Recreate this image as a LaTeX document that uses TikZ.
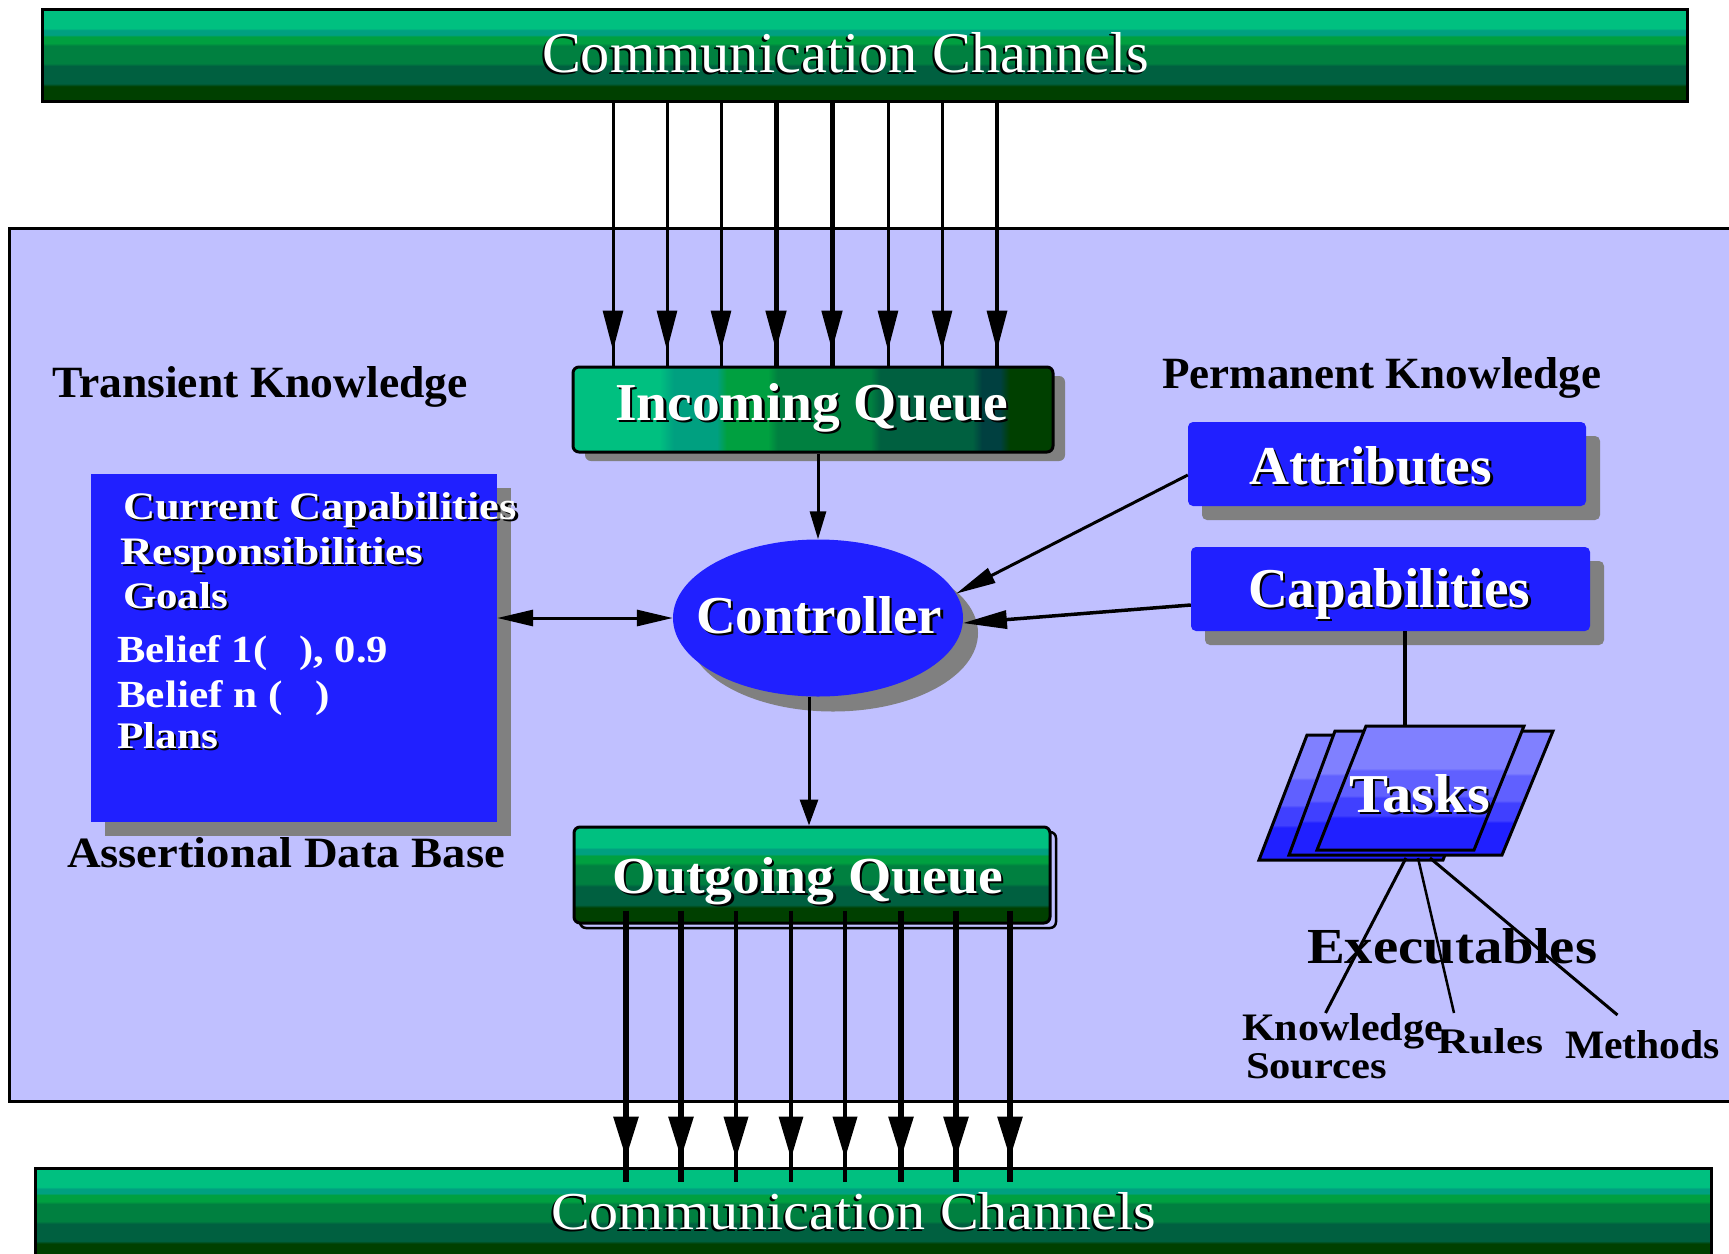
\documentclass[tikz,border=0pt]{standalone}
\usepackage{fontspec}
\setmainfont{Liberation Serif}
\usepackage{graphicx}
\usetikzlibrary{arrows.meta,shadows,decorations.markings,calc,shapes.geometric}

\definecolor{g1}{HTML}{00C080}
\definecolor{g2}{HTML}{00A080}
\definecolor{g3}{HTML}{00A040}
\definecolor{g4}{HTML}{008040}
\definecolor{g5}{HTML}{006040}
\definecolor{g5b}{HTML}{004040}
\definecolor{g6}{HTML}{004000}
\definecolor{t1}{HTML}{8080FF}
\definecolor{t2}{HTML}{6060FF}
\definecolor{t3}{HTML}{4040FF}
\definecolor{t4}{HTML}{2020FF}
\definecolor{panel}{HTML}{C0C0FF}
\definecolor{kbblue}{HTML}{2020FF}
\definecolor{shadowgray}{HTML}{808080}

% banded green fill, light at the top
\pgfdeclareverticalshading{channelbands}{100bp}{%
  color(0bp)=(g6); color(33bp)=(g6); color(34.5bp)=(g5); color(44bp)=(g5);
  color(45.5bp)=(g4); color(55bp)=(g4); color(56.5bp)=(g3); color(60bp)=(g3);
  color(61bp)=(g2); color(63.5bp)=(g2); color(64.5bp)=(g1); color(100bp)=(g1)}
% banded green fill, light at the left
\pgfdeclarehorizontalshading{inqueuebands}{100bp}{%
  color(0bp)=(g1); color(34bp)=(g1); color(35.5bp)=(g2); color(40bp)=(g2);
  color(41bp)=(g3); color(45.3bp)=(g3); color(46.3bp)=(g4); color(56bp)=(g4);
  color(57bp)=(g5); color(66.6bp)=(g5); color(67.6bp)=(g5b); color(69.5bp)=(g5b);
  color(70.5bp)=(g6); color(100bp)=(g6)}
% banded blue fill for the task cards
\pgfdeclareverticalshading{taskbands}{100bp}{%
  color(0bp)=(t4); color(38bp)=(t4); color(39bp)=(t3); color(46bp)=(t3);
  color(47bp)=(t2); color(57bp)=(t2); color(58bp)=(t1); color(100bp)=(t1)}

% text fitted to a width and height, white with a black offset copy
\newcommand\embossed[3]{%
  \rlap{\kern2.5pt\raisebox{-2.5pt}{\textcolor{black}{\resizebox{#1}{#2}{#3}}}}%
  \textcolor{white}{\resizebox{#1}{#2}{#3}}}
\newcommand\embossedL[3]{%
  \rlap{\kern-2pt\raisebox{-2.5pt}{\textcolor{black}{\resizebox{#1}{#2}{#3}}}}%
  \textcolor{white}{\resizebox{#1}{#2}{#3}}}
\newcommand\fitted[3]{\resizebox{#1}{#2}{#3}}

\tikzset{
  lbl/.style={anchor=base west, inner sep=0, outer sep=0},
  chanbar/.style={draw=black, line width=3pt, shade, shading=channelbands, inner sep=0},
  kbbox/.style={fill=kbblue, inner sep=0, rounded corners=5pt,
    drop shadow={shadow xshift=14pt, shadow yshift=-14pt, fill=shadowgray, opacity=1}},
  link/.style={line width=3pt},
  inlink/.style={line width=#1, postaction={decorate, decoration={markings,
    mark=at position -15pt with {\arrow{Triangle[length=40pt,width=20pt]}}}}},
  outlink/.style={line width=#1, postaction={decorate, decoration={markings,
    mark=at position -23pt with {\arrow{Triangle[length=42pt,width=24pt]}}}}},
  card/.style={draw=black, line width=3pt, line join=miter, shade, shading=taskbands},
}

\begin{document}
\begin{tikzpicture}[x=1pt,y=-1pt]
\useasboundingbox (0,0) rectangle (1729,1253);
\fill[white] (0,0) rectangle (1729,1253);

% agent panel
\draw[line width=3pt, fill=panel] (9,228) rectangle (1750,1101);

% communication channels
\node[chanbar, minimum width=1645pt, minimum height=92pt] (topch) at (864.5,55) {};
\node[lbl] (topchT) at (542,72) {\embossedL{607pt}{40pt}{Communication Channels}};
\node[chanbar, minimum width=1676pt, minimum height=90pt] (botch) at (873,1213) {};
\node[lbl] (botchT) at (551,1229) {\embossedL{605pt}{37pt}{Communication Channels}};

% queues
\node[draw=black, line width=3pt, rounded corners=6pt, shade, shading=inqueuebands,
  drop shadow={shadow xshift=12pt, shadow yshift=-9pt, fill=shadowgray, opacity=1},
  minimum width=480pt, minimum height=85pt, inner sep=0] (iq) at (813,409.5) {};
\node[lbl] (iqT) at (615,420) {\embossed{393pt}{37pt}{\bfseries Incoming Queue}};

\draw[line width=2.5pt, rounded corners=6pt] (580,832) rectangle (1056,928);
\node[draw=black, line width=3pt, rounded corners=6pt, shade, shading=channelbands,
  minimum width=476pt, minimum height=96pt, inner sep=0] (og) at (812,875) {};
\node[lbl] (ogT) at (612,893) {\embossed{391pt}{36pt}{\bfseries Outgoing Queue}};

% controller
\node[ellipse, fill=kbblue, minimum width=290pt, minimum height=157pt, inner sep=0,
  drop shadow={shadow xshift=15pt, shadow yshift=-15pt, fill=shadowgray, opacity=1}]
  (ctrl) at (818,618) {};
\node[lbl] (ctrlT) at (696,633) {\embossed{246pt}{37pt}{\bfseries Controller}};

% transient knowledge
\node[lbl] (transT) at (52,397) {\fitted{416pt}{31pt}{\bfseries Transient Knowledge}};
\node[fill=kbblue, inner sep=0, minimum width=406pt, minimum height=348pt,
  drop shadow={shadow xshift=14pt, shadow yshift=-14pt, fill=shadowgray, opacity=1}]
  (adb) at (294,648) {};
\node[lbl] (curcapT) at (123,519) {\embossed{394pt}{27pt}{\bfseries Current Capabilities}};
\node[lbl] (respT) at (120,564) {\embossed{303pt}{27pt}{\bfseries Responsibilities}};
\node[lbl] (goalsT) at (123,608) {\embossed{105pt}{26pt}{\bfseries Goals}};
\node[lbl, text=white] (belief1T) at (117,662) {\fitted{271pt}{27pt}{\bfseries Belief 1(\ \ \ ), 0.9}};
\node[lbl, text=white] (beliefnT) at (117,707) {\fitted{213pt}{27pt}{\bfseries Belief n (\ \ \ )}};
\node[lbl] (plansT) at (117,748) {\embossed{101pt}{26pt}{\bfseries Plans}};
\node[lbl] (adbT) at (67,867) {\fitted{438pt}{30pt}{\bfseries Assertional Data Base}};

% permanent knowledge
\node[lbl] (permT) at (1162,388) {\fitted{439pt}{31pt}{\bfseries Permanent Knowledge}};
\node[kbbox, minimum width=398pt, minimum height=84pt] (attr) at (1387,464) {};
\node[lbl] (attrT) at (1249,484) {\embossed{243pt}{38pt}{\bfseries Attributes}};
\node[kbbox, minimum width=399pt, minimum height=84pt] (cap) at (1390.5,589) {};
\node[lbl] (capT) at (1248,607) {\embossed{282pt}{39pt}{\bfseries Capabilities}};

% task cards, back to front
\draw[card] (1259,860) -- (1307,735) -- (1491,735) -- (1443,860) -- cycle;
\draw[card] (1289,855) -- (1335,731) -- (1553,731) -- (1502,855) -- cycle;
\draw[card] (1317,850) -- (1366,726) -- (1524,726) -- (1474,850) -- cycle;
\coordinate (tasktop) at (1405,726);
\coordinate (taskfoot) at (1418,858);
\node[lbl] (tasksT) at (1349,812) {\embossed{141pt}{38pt}{\bfseries Tasks}};

% executables
\node[lbl] (execT) at (1307,963) {\fitted{290pt}{35pt}{\bfseries Executables}};
\node[lbl] (knowT) at (1242,1040) {\fitted{201pt}{27pt}{\bfseries Knowledge}};
\node[lbl] (srcT) at (1246,1078) {\fitted{141pt}{25pt}{\bfseries Sources}};
\node[lbl] (rulesT) at (1437,1053) {\fitted{106pt}{25pt}{\bfseries Rules}};
\node[lbl] (methT) at (1565,1058) {\fitted{155pt}{28pt}{\bfseries Methods}};

% channel ports
\foreach \n/\x in {1/613,2/667,3/721,4/776,5/832,6/888,7/942,8/997}
  \coordinate (i\n) at (\x,0);
\foreach \n/\x in {1/626,2/681,3/736,4/791,5/845,6/901,7/956,8/1010}
  \coordinate (o\n) at (\x,0);

% incoming messages
\foreach \n/\w in {1/3pt,2/3pt,3/3pt,4/5pt,5/5pt,6/3pt,7/3pt,8/3.5pt}
  \draw[inlink=\w] (topch.south -| i\n) -- (iq.north -| i\n);
% outgoing messages
\foreach \n/\w in {1/6pt,2/6pt,3/4pt,4/3.3pt,5/4pt,6/6pt,7/6pt,8/6pt}
  \draw[outlink=\w] ($(og.south -| o\n)+(0,-14)$) -- ($(botch.north -| o\n)+(0,15)$);

% controller links
\draw[link, -{Triangle[length=28pt,width=16pt]}] (iq.south -| ctrl.north) -- (ctrl.north);
\coordinate (cbot) at ([xshift=-9pt]ctrl.south);
\draw[link, -{Triangle[length=26pt,width=18pt]}] (cbot) -- (cbot |- og.north);
\draw[link, {Triangle[length=36pt,width=16pt]}-{Triangle[length=36pt,width=16pt]}]
  (adb.east |- ctrl.west) -- (ctrl.west);
\draw[link, -{Triangle[length=40pt,width=16pt]}] ([yshift=-11pt]attr.west) -- (ctrl.10);
\draw[line width=3.5pt, -{Triangle[length=44pt,width=18pt]}] ([yshift=-16pt]cap.west) -- (ctrl.-2);

% capabilities to tasks to executables
\draw[line width=4pt] (cap.south -| tasktop) -- (tasktop);
\draw[line width=3pt] ([xshift=-12pt]taskfoot) -- ([xshift=-17pt]knowT.north);
\draw[line width=2.5pt] (taskfoot) -- ([shift={(-36pt,15pt)}]rulesT.north);
\draw[line width=3pt] ([xshift=12pt]taskfoot) -- ([shift={(-25pt,15pt)}]methT.north);
\end{tikzpicture}
\end{document}
